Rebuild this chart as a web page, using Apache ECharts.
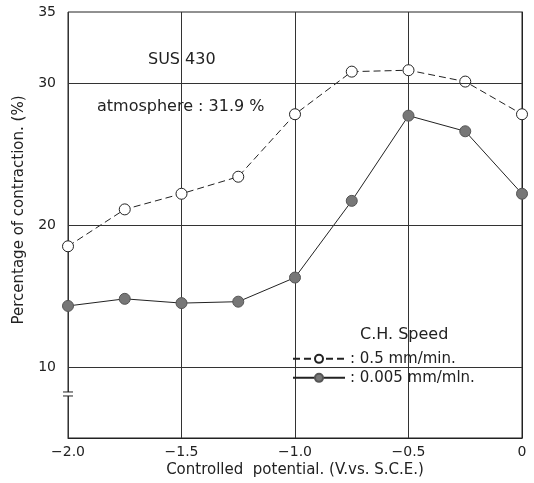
<!doctype html>
<html>
<head>
    <title>SUS 430 contraction</title>
    <script src="https://cdn.jsdelivr.net/npm/echarts@6/dist/echarts.min.js"></script>
</head>
<style>
    html, body { margin: 0; padding: 0; background: #fff; }
    #chart { width: 534px; height: 483px; }
</style>
<body>
<div id="chart"></div>
<script>
  // potential (V vs S.C.E.)
  var potential = [-2.0, -1.75, -1.5, -1.25, -1.0, -0.75, -0.5, -0.25, 0];
  // % contraction, C.H. speed 0.5 mm/min
  var fastSpeed = [18.5, 21.1, 22.2, 23.4, 27.8, 30.8, 30.9, 30.1, 27.8];
  // % contraction, C.H. speed 0.005 mm/min
  var slowSpeed = [14.3, 14.8, 14.5, 14.6, 16.3, 21.7, 27.7, 26.6, 22.2];
  var yLabels = [10, 20, 30, 35];
  var gridValues = [10, 20, 30];

  var font = 'DejaVu Sans';
  var ink = '#222';

  function pairs(ys) {
    return potential.map(function (x, i) { return [x, ys[i]]; });
  }

  function legendAt(top, name) {
    return {
      orient: 'vertical',
      left: 292,
      top: top,
      padding: 0,
      itemWidth: 52,
      itemHeight: 10,
      textStyle: { color: ink, fontFamily: font, fontSize: 15 },
      formatter: function (n) { return ': ' + n; },
      data: [name]
    };
  }

  var myChart = echarts.init(document.getElementById('chart'));

  var option = {
    backgroundColor: '#fff',
    animation: false,
    grid: {
      left: 68,
      right: 12,
      top: 12,
      bottom: 45,
      containLabel: false,
      outerBoundsMode: 'none',
      show: true,
      borderColor: ink,
      borderWidth: 1
    },
    xAxis: {
      type: 'value',
      min: -2,
      max: 0,
      interval: 0.5,
      axisLine: { lineStyle: { color: ink } },
      axisTick: { show: false },
      splitLine: { show: true, lineStyle: { color: '#333', width: 1 } },
      axisLabel: {
        color: ink,
        fontFamily: font,
        fontSize: 14,
        margin: 0,
        formatter: function (v) {
          if (v === 0) return '0';
          return '\u2212' + Math.abs(v).toFixed(1);
        }
      },
      name: 'Controlled  potential. (V.vs. S.C.E.)',
      nameLocation: 'middle',
      nameMoveOverlap: false,
      nameGap: 17,
      nameTextStyle: { color: ink, fontFamily: font, fontSize: 15 }
    },
    yAxis: {
      type: 'value',
      min: 5,
      max: 35,
      interval: 5,
      axisLine: { show: true, lineStyle: { color: ink } },
      axisTick: { show: false },
      splitLine: { show: false },
      axisLabel: {
        color: ink,
        fontFamily: font,
        fontSize: 14,
        margin: 12,
        formatter: function (v) {
          return yLabels.indexOf(v) >= 0 ? String(v) : '';
        }
      },
      name: 'Percentage of contraction. (%)',
      nameLocation: 'middle',
      nameMoveOverlap: false,
      nameGap: 34,
      nameTextStyle: { color: ink, fontFamily: font, fontSize: 15, padding: [0, 0, 0, 30] }
    },
    legend: [
      legendAt(344, '0.5 mm/min.'),
      legendAt(363, '0.005 mm/mln.')
    ],
    series: [
      {
        name: '0.5 mm/min.',
        type: 'line',
        data: pairs(fastSpeed),
        symbol: 'circle',
        symbolSize: 11,
        z: 3,
        lineStyle: { color: ink, width: 1, type: [7, 4] },
        itemStyle: { color: '#fff', borderColor: ink, borderWidth: 1 },
        markLine: {
          silent: true,
          symbol: 'none',
          label: { show: false },
          lineStyle: { color: '#333', width: 1, type: 'solid' },
          data: gridValues.map(function (v) { return { yAxis: v }; })
        }
      },
      {
        name: '0.005 mm/mln.',
        type: 'line',
        data: pairs(slowSpeed),
        symbol: 'circle',
        symbolSize: 11,
        z: 3,
        lineStyle: { color: ink, width: 1, type: 'solid' },
        itemStyle: { color: '#777', borderColor: '#555', borderWidth: 1 }
      }
    ]
  };

  myChart.setOption(option);

  // annotations and the axis break mark
  var ax = myChart.convertToPixel({ xAxisIndex: 0 }, -2);
  var by = myChart.convertToPixel({ yAxisIndex: 0 }, 8.1);
  myChart.setOption({
    graphic: [
      {
        type: 'text', left: 148, top: 44,
        style: { text: 'SUS 430', fill: ink, font: '16px ' + font }
      },
      {
        type: 'text', left: 97, top: 91,
        style: { text: 'atmosphere : 31.9 %', fill: ink, font: '16px ' + font }
      },
      {
        type: 'text', left: 360, top: 319,
        style: { text: 'C.H. Speed', fill: ink, font: '16px ' + font }
      },
      {
        type: 'rect', shape: { x: ax - 3, y: by - 2, width: 6, height: 4 },
        style: { fill: '#fff' }, z: 10
      },
      {
        type: 'line', shape: { x1: ax - 5, y1: by - 2, x2: ax + 5, y2: by - 2 },
        style: { stroke: ink, lineWidth: 1 }, z: 11
      },
      {
        type: 'line', shape: { x1: ax - 5, y1: by + 2, x2: ax + 5, y2: by + 2 },
        style: { stroke: ink, lineWidth: 1 }, z: 11
      }
    ]
  });
</script>
</body>
</html>
